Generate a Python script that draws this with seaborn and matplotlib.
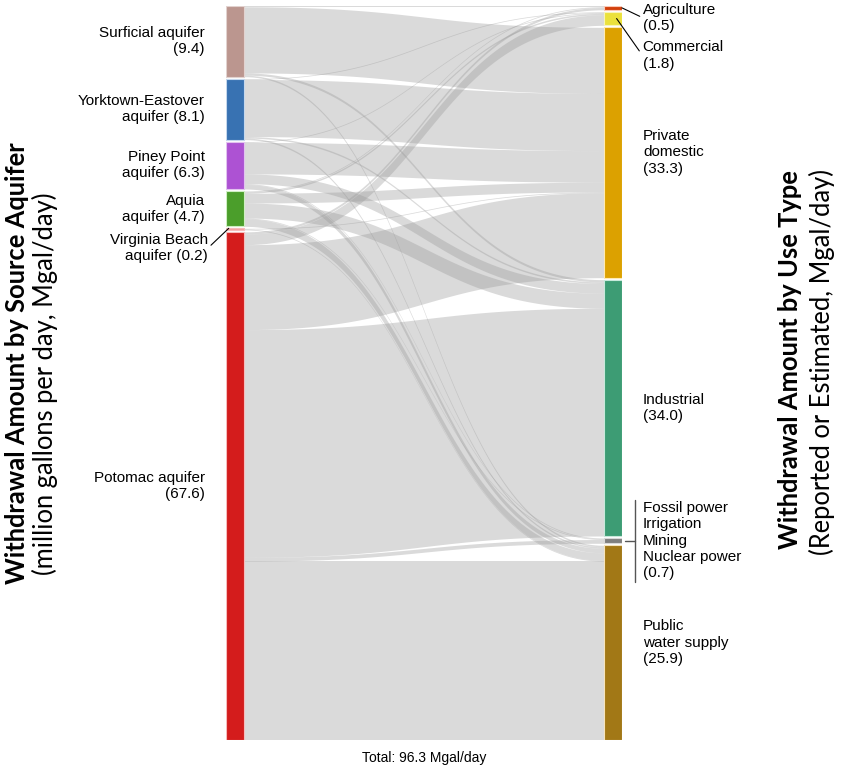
import numpy as np
import matplotlib.pyplot as plt
import seaborn as sns

# Groundwater withdrawals by source aquifer -> use type (Mgal/day)

sources = ['Surficial', 'Yorktown-Eastover', 'Piney Point', 'Aquia', 'Virginia Beach', 'Potomac']
source_labels = ['Surficial aquifer\n(9.4)', 'Yorktown-Eastover\naquifer (8.1)', 'Piney Point\naquifer (6.3)',
                 'Aquia\naquifer (4.7)', 'Virginia Beach\naquifer (0.2)', 'Potomac aquifer\n(67.6)']
source_colors = ['#bb968f', '#3872b2', '#ad52d3', '#4b9e2b', '#f2a3a3', '#d41c1c']

uses = ['Agriculture', 'Commercial', 'Private domestic', 'Industrial', 'Other', 'Public water supply']
use_labels = ['Agriculture\n(0.5)', 'Commercial\n(1.8)', 'Private\ndomestic\n(33.3)', 'Industrial\n(34.0)',
              'Fossil power\nIrrigation\nMining\nNuclear power\n(0.7)', 'Public\nwater supply\n(25.9)']
use_colors = ['#d2400c', '#ebe13c', '#dca100', '#3d9c74', '#7f7f7f', '#a27816']

# flows from each aquifer, in the order of `uses`
surficial_flows = [0.1, 0.0, 8.8, 0.3, 0.0, 0.2]
yorktown_flows = [0.0, 0.1, 7.6, 0.2, 0.0, 0.2]
piney_flows = [0.0, 0.1, 4.2, 1.3, 0.1, 0.6]
aquia_flows = [0.1, 0.2, 1.3, 2.0, 0.1, 1.0]
vbeach_flows = [0.0, 0.0, 0.1, 0.0, 0.0, 0.1]
potomac_flows = [0.3, 1.4, 11.3, 30.3, 0.5, 23.8]

total_text = 'Total: 96.3 Mgal/day'

flows = np.array([surficial_flows, yorktown_flows, piney_flows, aquia_flows, vbeach_flows, potomac_flows])

sns.set_theme(style='white')
plt.rcParams['font.family'] = ['Liberation Sans', 'DejaVu Sans']
plt.rcParams['text.color'] = 'black'

W, H_PX = 861, 771
fig = plt.figure(figsize=(W / 100, H_PX / 100), dpi=100)
ax_left, ax_top, ax_w, ax_h = 226, 6, 396, 734
ax = fig.add_axes([ax_left / W, 1 - (ax_top + ax_h) / H_PX, ax_w / W, ax_h / H_PX])

GAP = 0.27
NODE_W = 18 / ax_w
src_tot = flows.sum(axis=1)
use_tot = flows.sum(axis=0)
H = max(src_tot.sum(), use_tot.sum()) + GAP * (len(sources) - 1)
py = ax_h / H  # pixels per unit in y
px = ax_w      # pixels per unit in x


def stack(tots):
    starts, y = [], 0.0
    for t in tots:
        starts.append(y)
        y += t + GAP
    return np.array(starts)


src_y = stack(src_tot)
use_y = stack(use_tot)

# links (plotly-like bezier ribbons)
t = np.linspace(0, 1, 120)
x0, x1 = NODE_W, 1 - NODE_W
xm = (x0 + x1) / 2
bx = (1 - t) ** 3 * x0 + 3 * (1 - t) ** 2 * t * xm + 3 * (1 - t) * t ** 2 * xm + t ** 3 * x1
blend = 3 * (1 - t) * t ** 2 + t ** 3  # weight of the end point in y

src_off = src_y.copy()
use_off = use_y.copy()
links = []
for i in range(len(sources)):
    for j in range(len(uses)):
        v = flows[i, j]
        if v <= 0:
            continue
        links.append((i, j, src_off[i], use_off[j], v))
        src_off[i] += v
        use_off[j] += v

for i, j, ys, yt, v in links:
    top = ys + (yt - ys) * blend
    ax.fill_between(bx, top, top + v, color='#999999', alpha=0.36, lw=0)

# nodes
for k, (y, h) in enumerate(zip(src_y, src_tot)):
    ax.add_patch(plt.Rectangle((0, y), NODE_W, h, facecolor=source_colors[k],
                               edgecolor=sns.set_hls_values(source_colors[k], l=0.85), lw=0.8))
for k, (y, h) in enumerate(zip(use_y, use_tot)):
    ax.add_patch(plt.Rectangle((1 - NODE_W, y), NODE_W, h, facecolor=use_colors[k],
                               edgecolor=sns.set_hls_values(use_colors[k], l=0.85), lw=0.8))

lab_kw = dict(fontsize=11, color='black', textcoords='offset pixels', va='center', linespacing=1.2)
line_kw = dict(arrowstyle='-', color='black', lw=0.8, shrinkA=0, shrinkB=0)

# left labels
for k, lab in enumerate(source_labels):
    cy = src_y[k] + src_tot[k] / 2
    if sources[k] == 'Virginia Beach':
        ax.annotate(lab, xy=(0.15 * NODE_W, src_y[k]), xytext=(-21, -20), ha='right',
                    arrowprops=dict(relpos=(1, 0.5), **line_kw), **lab_kw)
    else:
        ax.annotate(lab, xy=(0, cy), xytext=(-21, 0), ha='right', **lab_kw)

# right labels
for k, lab in enumerate(use_labels):
    cy = use_y[k] + use_tot[k] / 2
    if uses[k] == 'Agriculture':
        ax.annotate(lab, xy=(1, cy), xytext=(21, -10), ha='left',
                    arrowprops=dict(relpos=(0, 0.5), **line_kw), **lab_kw)
    elif uses[k] == 'Commercial':
        ax.annotate(lab, xy=(1 - 0.3 * NODE_W, cy), xytext=(26, -37), ha='left',
                    arrowprops=dict(relpos=(0, 0.5), **line_kw), **lab_kw)
    elif uses[k] == 'Other':
        ax.annotate(lab, xy=(1, cy), xytext=(21, 0), ha='left', **lab_kw)
        bxp = 1 + 13 / px
        ax.plot([1 + 3 / px, bxp], [cy, cy], color='#555555', lw=1, clip_on=False)
        ax.plot([bxp, bxp], [cy - 41 / py, cy + 41 / py], color='#555555', lw=1, clip_on=False)
    else:
        ax.annotate(lab, xy=(1, cy), xytext=(21, 0), ha='left', **lab_kw)

ax.annotate(total_text, xy=(0.5, H), xytext=(0, -18), ha='center', fontsize=10,
            textcoords='offset pixels', va='center')

ax.set_xlim(0, 1)
ax.set_ylim(H, 0)
ax.axis('off')

# side titles
title_kw = dict(rotation=90, ha='center', va='center', fontsize=18.4, color='black',
                family=['Lato', 'DejaVu Sans'])
fig.text(17 / W, 1 - 363 / H_PX, 'Withdrawal Amount by Source Aquifer', fontweight='bold', **title_kw)
fig.text(45 / W, 1 - 384 / H_PX, '(million gallons per day, Mgal/day)', **title_kw)
fig.text(790 / W, 1 - 360 / H_PX, 'Withdrawal Amount by Use Type', fontweight='bold', **title_kw)
fig.text(822 / W, 1 - 362 / H_PX, '(Reported or Estimated, Mgal/day)', **title_kw)

plt.savefig('out.png', dpi=100)
